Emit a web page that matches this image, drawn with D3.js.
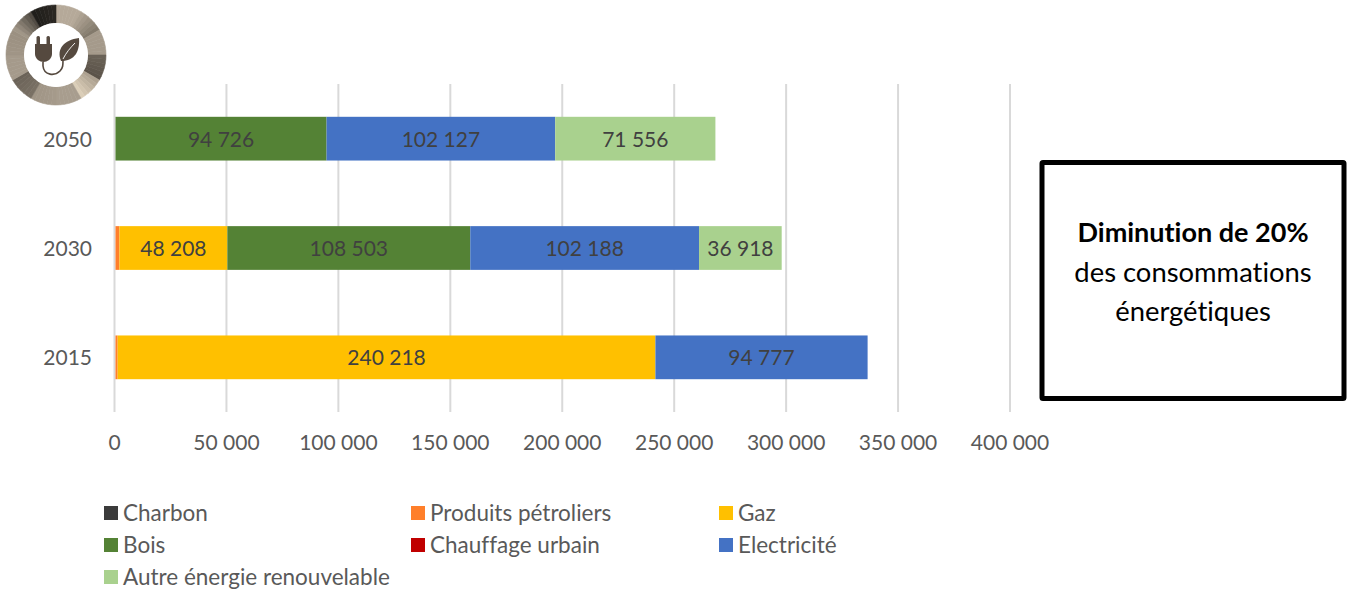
<!DOCTYPE html>
<html><head><meta charset="utf-8">
<script src="https://cdn.jsdelivr.net/npm/d3@7"></script>
<style>html,body{margin:0;padding:0;background:#fff}svg{display:block}text{font-family:Lato,"Open Sans",sans-serif;font-variant-ligatures:none}</style>
</head><body><svg id="c" width="1352" height="592"></svg>
<script>
const years = ["2050","2030","2015"];
const seriesNames = ["Charbon","Produits pétroliers","Gaz","Bois","Chauffage urbain","Electricité","Autre énergie renouvelable"];
const colors = ["#3b3b3b","#ff7f2a","#ffc000","#548235","#c00000","#4472c4","#a9d18e"];
const charbon = [0,0,0];
const petrole = [0,2200,1400];
const gaz = [0,48208,240218];
const bois = [94726,108503,0];
const urbain = [0,0,0];
const electricite = [102127,102188,94777];
const renouvelable = [71556,36918,0];
const allSeries = [charbon,petrole,gaz,bois,urbain,electricite,renouvelable];
const ticks = [0,50000,100000,150000,200000,250000,300000,350000,400000];
const labelMin = 10000;
const ringFrom = ["#b5a999","#b0a595","#a59a8b","#6b6358","#a89d8c","#a89d8e","#a59a8b","#7a7165","#a59a8b","#a09586","#a89d8e","#1f1d1a"];
const ringTo   = ["#b5a999","#7f7668","#a59a8b","#5a5248","#e0d2bc","#a89d8e","#a09586","#6a6257","#a59a8b","#9b9081","#4a453d","#2b2823"];
const boxLines = ["Diminution de 20%","des consommations","énergétiques"];

const svg = d3.select("#c");
const fmt = v => d3.format(",")(v).replace(/,/g," ");
const x = d3.scaleLinear().domain([0,400000]).range([114.5,1010]);
const y = d3.scaleBand().domain(years).range([84,412]).paddingInner(0.6).paddingOuter(0.3);

svg.append("g").selectAll("line").data(ticks).join("line")
  .attr("x1",d=>x(d)).attr("x2",d=>x(d)).attr("y1",84).attr("y2",412)
  .attr("stroke","#d9d9d9").attr("stroke-width",2);

svg.append("g").selectAll("text").data(ticks).join("text")
  .attr("x",d=>x(d)).attr("y",450).attr("text-anchor","middle")
  .attr("font-size",21).attr("fill","#595959").text(fmt);
svg.append("g").selectAll("text").data(years).join("text")
  .attr("x",92).attr("y",d=>y(d)+y.bandwidth()/2+8).attr("text-anchor","end")
  .attr("font-size",21).attr("fill","#595959").text(d=>d);

years.forEach((yr,i)=>{
  let acc=0;
  allSeries.forEach((s,j)=>{
    const v=s[i]; if(!v) return;
    const x0=x(acc)+ (acc===0?1:0), x1=x(acc+v);
    svg.append("rect").attr("x",x0).attr("y",y(yr)).attr("width",x1-x0).attr("height",y.bandwidth())
      .attr("fill",colors[j]);
    if(v>labelMin) svg.append("text").attr("x",(x0+x1)/2).attr("y",y(yr)+y.bandwidth()/2+8)
      .attr("text-anchor","middle").attr("font-size",21).attr("fill","#404040").text(fmt(v));
    acc+=v;
  });
});

const legCols=[104,411,719], legRows=[513,545,577];
seriesNames.forEach((n,i)=>{
  const c=legCols[i%3], r=legRows[Math.floor(i/3)];
  svg.append("rect").attr("x",c).attr("y",r-7).attr("width",14).attr("height",14).attr("fill",colors[i]);
  svg.append("text").attr("x",c+19).attr("y",r+7.5).attr("font-size",22.5).attr("fill","#595959").text(n);
});

svg.append("rect").attr("x",1042).attr("y",162.5).attr("width",302).attr("height",236)
  .attr("fill","#fff").attr("stroke","#000").attr("stroke-width",5).attr("rx",1);
boxLines.forEach((t,i)=>{
  svg.append("text").attr("x",1193).attr("y",242+i*39.5).attr("text-anchor","middle")
    .attr("font-size",i===0?27:27.4).attr("font-weight",i===0?700:400).attr("fill","#000").text(t);
});

const icon=svg.append("g").attr("transform","translate(56,55)");
const steps=6, wedge=2*Math.PI/ringFrom.length;
const arc=d3.arc().innerRadius(32).outerRadius(50);
ringFrom.forEach((c,i)=>{
  const col=d3.interpolateRgb(c,ringTo[i]);
  d3.range(steps).forEach(k=>{
    const a0=(i+k/steps)*wedge, a1=(i+(k+1)/steps)*wedge, f=col((k+.5)/steps);
    icon.append("path").attr("d",arc({startAngle:a0,endAngle:a1})).attr("fill",f).attr("stroke",f).attr("stroke-width",.6);
  });
});
icon.append("circle").attr("r",32).attr("fill","#fff");
icon.append("g").attr("fill","#55493f").call(g=>{
  g.append("rect").attr("x",-19.5).attr("y",-19).attr("width",3.5).attr("height",10).attr("rx",1.5);
  g.append("rect").attr("x",-9.5).attr("y",-19).attr("width",3.5).attr("height",10).attr("rx",1.5);
  g.append("path").attr("d","M-21,-11H-4V-1C-4,4 -9,7 -12.5,7C-16,7 -21,4 -21,-1Z");
  g.append("path").attr("d","M5,6C0,-6 8,-15 23,-17C24,-4 19,6 5,6Z");
});
icon.append("path").attr("d","M-13,7V11C-12,21 -1,21 4,16C7,13 7,10 7,5").attr("fill","none").attr("stroke","#55493f").attr("stroke-width",1.6);
icon.append("path").attr("d","M7,4C10,-2 14,-7 19,-12").attr("fill","none").attr("stroke","#fff").attr("stroke-width",.9);
</script></body></html>
